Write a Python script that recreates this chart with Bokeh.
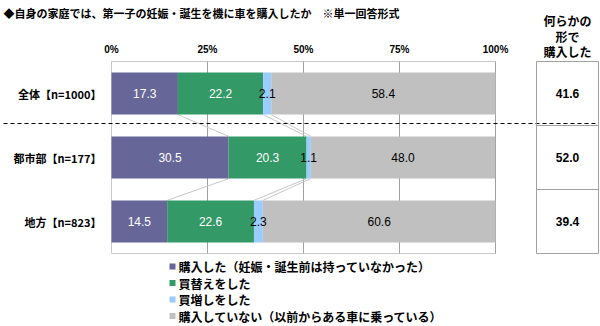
import numpy as np
from bokeh.plotting import figure
from bokeh.models import Range1d, ColumnDataSource
from bokeh.core.properties import value
from bokeh.embed import file_html
from bokeh.resources import INLINE

# ---------------- data ----------------
title = "◆自身の家庭では、第一子の妊娠・誕生を機に車を購入したか　※単一回答形式"
categories = ["全体【n=1000】", "都市部【n=177】", "地方【n=823】"]
series_names = ["購入した（妊娠・誕生前は持っていなかった）", "買替えをした", "買増しをした",
                "購入していない（以前からある車に乗っている）"]
bought_new = [17.3, 30.5, 14.5]
replaced = [22.2, 20.3, 22.6]
added = [2.1, 1.1, 2.3]
not_bought = [58.4, 48.0, 60.6]
any_bought = [41.6, 52.0, 39.4]
tick_values = [0, 25, 50, 75, 100]
tick_labels = ["0%", "25%", "50%", "75%", "100%"]
side_header = ["何らかの", "形で", "購入した"]

# ---------------- styles ----------------
colors = ["#666699", "#339966", "#99ccff", "#c0c0c0"]
label_colors = ["white", "white", "black", "black"]
JP = value("Noto Sans CJK JP")
LAT = value("Liberation Sans")

# pixel geometry -> data coords (frame covers whole canvas)
W, H = 600, 326
X0, X100 = 111.0, 495.0          # pixel of 0% and 100%
Y_ROW0, ROW_H = 93.0, 64.0        # pixel centre of first row, row pitch
sx = (X100 - X0) / 100.0
def dx(px): return (px - X0) / sx
def dy(py): return (py - Y_ROW0) / ROW_H

p = figure(width=W, height=H, output_backend="svg", toolbar_location=None,
           x_range=Range1d(dx(0), dx(W)), y_range=Range1d(dy(H), dy(0)),
           min_border=0, title=None)
p.axis.visible = False
p.grid.visible = False
p.outline_line_color = None
p.background_fill_color = "white"
p.border_fill_color = "white"

n = len(categories)
rows = np.arange(n)
data = np.array([bought_new, replaced, added, not_bought])
cum = np.cumsum(data, axis=0)
starts = cum - data
BAR_H = 0.66

# plot area frame and grid
p.quad(left=[tick_values[0]], right=[tick_values[-1]], bottom=[n - 0.5], top=[-0.5],
       fill_color=None, line_color="#c8c8c8", line_width=1)
p.segment(x0=tick_values[1:-1], x1=tick_values[1:-1], y0=[-0.5] * 3, y1=[n - 0.5] * 3,
          line_color="#a0a0a0", line_width=1)
p.segment(x0=[tick_values[-1]], x1=[tick_values[-1]], y0=[-0.5], y1=[n - 0.5],
          line_color="#a0a0a0", line_width=1)

# series connector lines
for k in range(3):
    p.segment(x0=cum[k, :-1], y0=rows[:-1] + BAR_H / 2, x1=cum[k, 1:], y1=rows[1:] - BAR_H / 2,
              line_color="#c8c8c8", line_width=1)

# bars
sources = []
for k in range(4):
    src = ColumnDataSource(dict(y=rows, left=starts[k], right=cum[k],
                                mid=(starts[k] + cum[k]) / 2,
                                lab=[f"{v:.1f}" for v in data[k]]))
    sources.append(src)
    p.hbar(y="y", left="left", right="right", height=BAR_H, source=src,
           fill_color=colors[k], line_color=None)

# dashed separator
p.segment(x0=[dx(3)], x1=[dx(597)], y0=[dy(123)], y1=[dy(123)],
          line_color="black", line_width=1, line_dash="4 3")

# bar labels (drawn after all bars)
for k in range(4):
    p.text(x="mid", y="y", text="lab", source=sources[k], text_align="center",
           text_baseline="middle", text_font=LAT, text_font_size="12px",
           text_color=label_colors[k])

# tick labels
p.text(x=tick_values, y=[dy(48.5)] * len(tick_values), text=tick_labels,
       text_align="center", text_baseline="middle", text_font=LAT,
       text_font_size="10px", text_font_style="bold", text_color="black")

# category labels
p.text(x=[dx(101)] * n, y=rows, text=categories, text_align="right",
       text_baseline="middle", text_font=JP, text_font_size="11px",
       text_font_style="bold", text_color="black")

# right-hand summary box
bx0, bx1 = dx(536), dx(598)
p.quad(left=[bx0] * n, right=[bx1] * n, top=rows - 0.5, bottom=rows + 0.5,
       fill_color="white", fill_alpha=0, line_color="#a0a0a0", line_width=1)
p.text(x=[(bx0 + bx1) / 2] * n, y=rows, text=[f"{v:.1f}" for v in any_bought],
       text_align="center", text_baseline="middle", text_font=LAT,
       text_font_size="12px", text_font_style="bold", text_color="black")
p.text(x=[(bx0 + bx1) / 2] * 3, y=[dy(20), dy(35.5), dy(51)], text=side_header,
       text_align="center", text_baseline="middle", text_font=JP,
       text_font_size="12px", text_font_style="bold", text_color="black")

# title
p.text(x=[dx(3)], y=[dy(12)], text=[title], text_align="left", text_baseline="middle",
       text_font=JP, text_font_size="11px", text_font_style="bold", text_color="black")

# legend
leg_y = [dy(v) for v in (266, 282.5, 299, 315.5)]
p.scatter(x=[dx(172)] * 4, y=leg_y, marker="square", size=6,
          fill_color=colors, line_color=None)
p.text(x=[dx(178)] * 4, y=leg_y, text=series_names, text_align="left",
       text_baseline="middle", text_font=JP, text_font_size="12px",
       text_font_style="bold", text_color="black")

open("out.html", "w").write(file_html(p, INLINE))
